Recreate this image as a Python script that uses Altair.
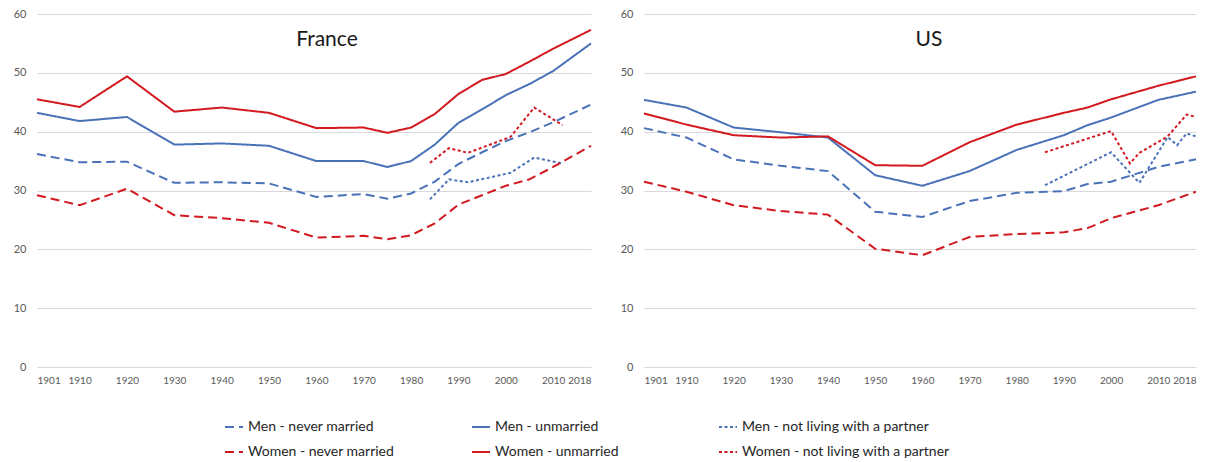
import altair as alt
import pandas as pd

# ---------------- data ----------------
SERIES = [
    "Men - never married", "Men - unmarried", "Men -  not living with a partner",
    "Women - never married", "Women - unmarried", "Women - not living with a partner",
]
COLORS = {"Men": "#4A72B8", "Women": "#D2191F"}
DASH_NEVER = [9, 5]
DASH_UNMARRIED = [1, 0]
DASH_NLP = [3, 2.5]
X_TICKS = [1901, 1910, 1920, 1930, 1940, 1950, 1960, 1970, 1980, 1990, 2000, 2010, 2018]

# France
fr_years = [1901, 1910, 1920, 1930, 1940, 1950, 1960, 1970, 1975, 1980, 1985, 1990, 1995, 2000, 2005, 2010, 2018]
fr_men_unmarried = [43.2, 41.8, 42.5, 37.8, 38.0, 37.6, 35.0, 35.0, 34.0, 35.0, 37.8, 41.5, 43.8, 46.2, 48.1, 50.3, 55.0]
fr_women_unmarried = [45.5, 44.2, 49.4, 43.4, 44.1, 43.2, 40.6, 40.7, 39.8, 40.7, 43.0, 46.4, 48.8, 49.8, 51.9, 54.1, 57.3]
fr_men_never = [36.2, 34.8, 34.9, 31.3, 31.4, 31.2, 28.9, 29.4, 28.6, 29.5, 31.5, 34.5, 36.5, 38.4, 39.9, 41.6, 44.6]
fr_women_never = [29.2, 27.5, 30.3, 25.8, 25.3, 24.5, 22.0, 22.3, 21.7, 22.4, 24.4, 27.6, 29.2, 30.8, 31.9, 34.0, 37.6]
fr_nlp_years = [1984, 1988, 1992, 2001, 2006, 2012]
fr_men_nlp = [28.5, 31.9, 31.4, 33.0, 35.6, 34.6]
fr_women_nlp = [34.7, 37.2, 36.4, 39.1, 44.1, 41.1]

# US
us_years = [1901, 1910, 1920, 1930, 1940, 1950, 1960, 1970, 1980, 1990, 1995, 2000, 2010, 2018]
us_men_unmarried = [45.4, 44.1, 40.7, 39.9, 39.0, 32.6, 30.8, 33.3, 36.9, 39.4, 41.1, 42.4, 45.4, 46.8]
us_women_unmarried = [43.1, 41.2, 39.4, 39.0, 39.2, 34.3, 34.2, 38.2, 41.2, 43.2, 44.1, 45.5, 47.8, 49.4]
us_men_never = [40.6, 39.0, 35.3, 34.2, 33.3, 26.4, 25.5, 28.2, 29.6, 29.9, 31.1, 31.5, 34.0, 35.3]
us_women_never = [31.5, 29.8, 27.5, 26.5, 25.9, 20.1, 19.0, 22.1, 22.6, 22.9, 23.6, 25.3, 27.5, 29.8]
us_men_nlp_years = [1986, 2000, 2006, 2012, 2014, 2016, 2018]
us_men_nlp = [30.9, 36.5, 31.3, 39.1, 37.7, 39.7, 39.2]
us_women_nlp_years = [1986, 2000, 2004, 2006, 2012, 2016, 2018]
us_women_nlp = [36.5, 40.1, 34.6, 36.4, 39.2, 42.9, 42.5]

# legend is filled column by column (2 rows x 3 columns)
LEGEND_ORDER = [SERIES[0], SERIES[3], SERIES[1], SERIES[4], SERIES[2], SERIES[5]]
LEGEND_COLORS = [COLORS["Men"], COLORS["Women"]] * 3
LEGEND_DASHES = [DASH_NEVER, DASH_NEVER, DASH_UNMARRIED, DASH_UNMARRIED, DASH_NLP, DASH_NLP]


def frame(pairs):
    rows = []
    for name, years, vals in pairs:
        for y, v in zip(years, vals):
            rows.append({"series": name, "year": y, "value": v})
    return pd.DataFrame(rows)


fr_df = frame([
    (SERIES[0], fr_years, fr_men_never),
    (SERIES[1], fr_years, fr_men_unmarried),
    (SERIES[2], fr_nlp_years, fr_men_nlp),
    (SERIES[3], fr_years, fr_women_never),
    (SERIES[4], fr_years, fr_women_unmarried),
    (SERIES[5], fr_nlp_years, fr_women_nlp),
])
us_df = frame([
    (SERIES[0], us_years, us_men_never),
    (SERIES[1], us_years, us_men_unmarried),
    (SERIES[2], us_men_nlp_years, us_men_nlp),
    (SERIES[3], us_years, us_women_never),
    (SERIES[4], us_years, us_women_unmarried),
    (SERIES[5], us_women_nlp_years, us_women_nlp),
])

FONT = "Lato"


def panel(df, title, w, tx):
    lines = alt.Chart(df).mark_line(strokeWidth=2).encode(
        x=alt.X("year:Q",
                scale=alt.Scale(domain=[1901, 2018], nice=False, zero=False),
                axis=alt.Axis(values=X_TICKS, format="d", title=None, grid=False,
                              domain=False, ticks=False, labelFontSize=10,
                              labelPadding=8, labelColor="#595959", labelFont=FONT,
                              labelOverlap=False)),
        y=alt.Y("value:Q",
                scale=alt.Scale(domain=[0, 60], nice=False),
                axis=alt.Axis(values=[0, 10, 20, 30, 40, 50, 60], title=None, grid=True,
                              gridColor="#D9D9D9", gridWidth=1, domain=False, ticks=False,
                              labelFontSize=11, labelPadding=11, labelColor="#595959",
                              labelFont=FONT)),
        color=alt.Color("series:N",
                        scale=alt.Scale(domain=LEGEND_ORDER, range=LEGEND_COLORS),
                        legend=alt.Legend(title=None)),
        strokeDash=alt.StrokeDash("series:N",
                                  scale=alt.Scale(domain=LEGEND_ORDER, range=LEGEND_DASHES),
                                  legend=alt.Legend(title=None)),
        detail="series:N",
    )
    label = alt.Chart(pd.DataFrame({"t": [title]})).mark_text(
        fontSize=21, font=FONT, color="#1a1a1a", align="center", baseline="middle"
    ).encode(text="t:N", x=alt.value(tx), y=alt.value(26))
    return alt.layer(lines, label).properties(width=w, height=353)


chart = alt.hconcat(
    panel(fr_df, "France", 554, 290),
    panel(us_df, "US", 552, 285),
    spacing=25,
).resolve_scale(color="shared", strokeDash="shared").properties(
    padding={"left": 5, "top": 0, "right": 0, "bottom": 0}
).configure_view(stroke=None).configure_legend(
    orient="none", legendX=187, legendY=403, columns=3, gridAlign="all",
    columnPadding=12, rowPadding=8, symbolType="stroke", symbolSize=324,
    symbolStrokeWidth=2, labelFontSize=14, labelFont=FONT, labelColor="#262626",
    labelLimit=300, symbolOffset=0, labelOffset=4,
)

chart.save("out.html", embed_options={"renderer": "svg", "actions": False})
